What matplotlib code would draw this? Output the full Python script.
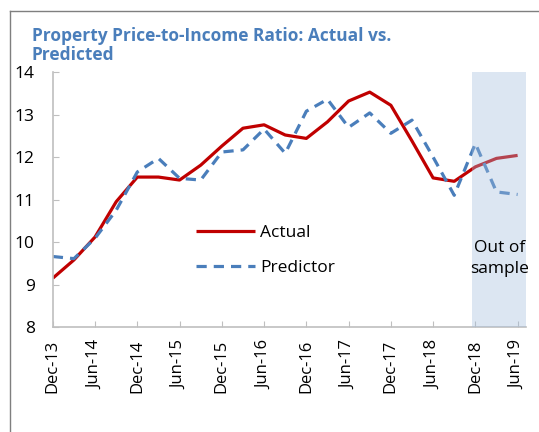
import matplotlib.pyplot as plt
from matplotlib.lines import Line2D

"""
Property price-to-income ratio, actual vs. predicted, with out of sample shading.
"""

quarters = ["Dec-13", "Mar-14", "Jun-14", "Sep-14", "Dec-14", "Mar-15", "Jun-15", "Sep-15",
            "Dec-15", "Mar-16", "Jun-16", "Sep-16", "Dec-16", "Mar-17", "Jun-17", "Sep-17",
            "Dec-17", "Mar-18", "Jun-18", "Sep-18", "Dec-18", "Mar-19", "Jun-19"]
actual = [9.15, 9.58, 10.12, 10.95, 11.53, 11.53, 11.46, 11.81, 12.26, 12.68, 12.76, 12.52,
          12.44, 12.83, 13.32, 13.53, 13.22, 12.38, 11.51, 11.43, 11.77, 11.97, 12.04]
predictor = [9.66, 9.61, 10.09, 10.75, 11.65, 11.97, 11.5, 11.46, 12.12, 12.17, 12.66, 12.09,
             13.08, 13.36, 12.7, 13.04, 12.56, 12.87, 12.0, 11.1, 12.32, 11.18, 11.12]
out_of_sample = (19.85, 22.4)

RED = "#C00000"
BLUE = "#4A7EBB"
GRAY = "#BFBFBF"

plt.rcParams['font.family'] = ['Open Sans', 'DejaVu Sans']

fig = plt.figure(figsize=(5.39, 4.32), dpi=100)
ax = fig.add_axes([0.098, 0.243, 0.878, 0.590])

x = list(range(len(quarters)))
ax.plot(x, actual, color=RED, lw=2.3, label="Actual", solid_capstyle='butt')
ax.plot(x, predictor, color=BLUE, lw=2.3, ls=(0, (3.2, 2.2)), label="Predictor")
ax.axvspan(out_of_sample[0], out_of_sample[1], color="#A2BDDD", alpha=0.37, lw=0, zorder=3)

ax.set_xlim(0, 22.4)
ax.set_ylim(8, 14)
ax.set_xticks(x[::2])
ax.set_xticklabels(quarters[::2], rotation=90, fontsize=12)
ax.set_yticks(range(8, 15))
ax.tick_params(axis='y', direction='in', length=4, color=GRAY, pad=13, labelsize=12.5)
ax.tick_params(axis='x', direction='in', length=4, color=GRAY, pad=9)

for side in ['top', 'right']:
    ax.spines[side].set_visible(False)
for side in ['left', 'bottom']:
    ax.spines[side].set_color(GRAY)
    ax.spines[side].set_linewidth(1.2)

ax.legend(loc='center left', bbox_to_anchor=(0.27, 0.30), frameon=False, fontsize=12.5,
          handlelength=3.4, labelspacing=1.1, handletextpad=0.3)

ax.text(21.15, 9.62, "Out of\nsample", ha='center', va='center', fontsize=12.5,
        linespacing=1.4, zorder=4)

fig.text(0.059, 0.895, "Property Price-to-Income Ratio: Actual vs.\nPredicted", ha='left',
         va='center', fontsize=12.5, fontweight='bold', color=BLUE, linespacing=1.05)

fig.add_artist(Line2D([0.018, 1.0], [0.974, 0.974], color="#7F7F7F", lw=1))
fig.add_artist(Line2D([0.018, 0.018], [0.0, 0.974], color="#7F7F7F", lw=1))

fig.savefig("out.png", dpi=100)
